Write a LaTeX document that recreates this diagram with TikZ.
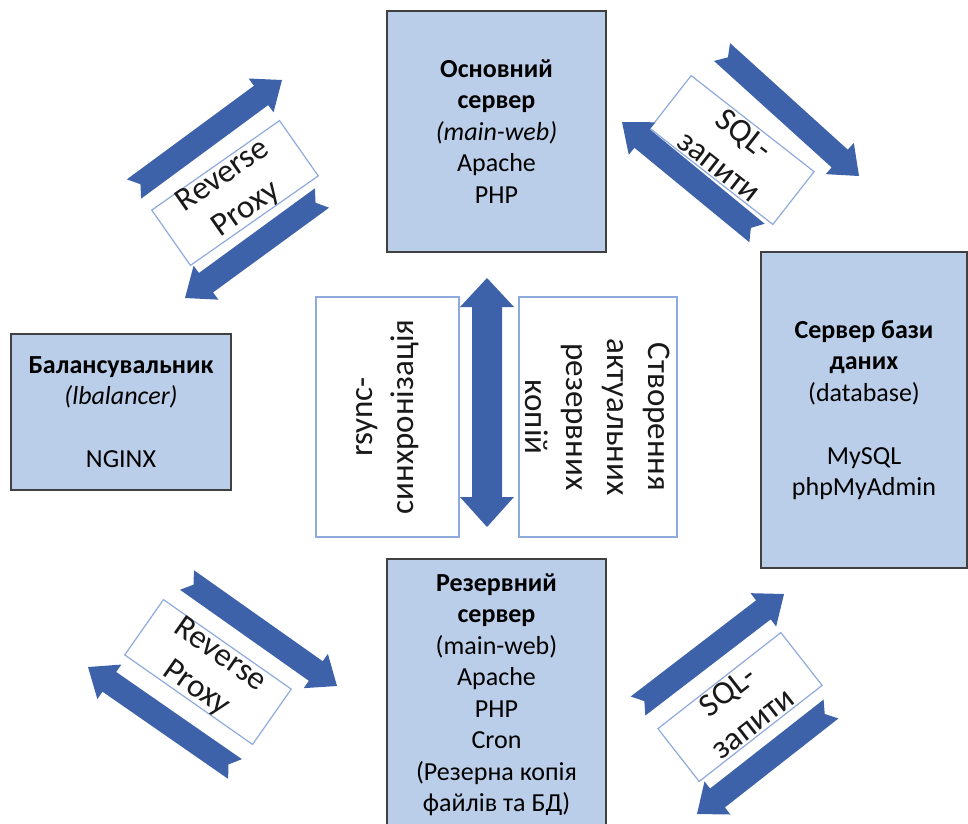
\documentclass[tikz,border=0pt]{standalone}
\usepackage{fontspec}
\setmainfont{Carlito}
\usetikzlibrary{calc}
\definecolor{boxfill}{RGB}{187,206,233}
\definecolor{boxline}{RGB}{64,64,64}
\definecolor{arrowblue}{RGB}{62,98,170}
\definecolor{lblline}{RGB}{143,170,220}
\tikzset{
  server/.style={draw=boxline, fill=boxfill, line width=1.2pt, align=center,
    font=\fontsize{26}{31.5}\selectfont, inner sep=0pt, text=black},
  lblbox/.style={draw=lblline, fill=white, line width=1.2pt, align=center,
    font=\fontsize{33}{41}\selectfont, inner sep=0pt, text=black!90},
  blkfill/.style={fill=arrowblue},
}
\newcommand{\blkarrow}[2]{%
  \coordinate (hb) at ($(#2)!26pt!(#1)$);
  \fill[blkfill] ($(#1)!12pt!90:(#2)$) -- ($(hb)!12pt!90:(#2)$) -- ($(hb)!21pt!90:(#2)$)
    -- (#2) -- ($(hb)!21pt!-90:(#2)$) -- ($(hb)!12pt!-90:(#2)$)
    -- ($(#1)!12pt!-90:(#2)$) -- ($(#1)!8pt!(#2)$) -- cycle;
}
\begin{document}
\begin{tikzpicture}[x=1pt,y=-1pt]
\useasboundingbox (0,0) rectangle (968,823);
\clip (0,0) rectangle (968,823);
\fill[white] (0,0) rectangle (968,823);

% server boxes
\node[server, minimum width=219pt, minimum height=241pt] (main) at (496.5,131.5)
  {\textbf{Основний}\\\textbf{сервер}\\\textit{(main-web)}\\Apache\\PHP};
\node[server, minimum width=206pt, minimum height=316pt] (db) at (864,410)
  {\textbf{Сервер бази}\\\textbf{даних}\\(database)\\[31.5pt]MySQL\\phpMyAdmin};
\node[server, minimum width=220pt, minimum height=156pt] (lb) at (121,412)
  {\textbf{Балансувальник}\\\textit{(lbalancer)}\\[31.5pt]NGINX};
\node[server, minimum width=219pt, minimum height=271pt] (backup) at (496.5,694.5)
  {\textbf{Резервний}\\\textbf{сервер}\\(main-web)\\Apache\\PHP\\Cron\\(Резерна копія\\файлів та БД)};

% central label boxes
\node[lblbox, minimum width=240pt, minimum height=143pt, rotate=90] (rsync) at (387.5,417)
  {rsync-\\синхронізація};
\node[lblbox, minimum width=240pt, minimum height=158pt, rotate=-90] (copies) at (598,417)
  {Створення\\актуальних\\резервних\\копій};

% vertical double arrow
\coordinate (dtop) at (487,278);
\coordinate (dbot) at (487,527);
\fill[blkfill] (dtop) -- ($(dtop)+(27,29)$) -- ($(dtop)+(15,29)$) -- ($(dbot)+(15,-30)$)
  -- ($(dbot)+(27,-30)$) -- (dbot) -- ($(dbot)+(-27,-30)$) -- ($(dbot)+(-15,-30)$)
  -- ($(dtop)+(-15,29)$) -- ($(dtop)+(-27,29)$) -- cycle;

% diagonal label boxes
\node[lblbox, minimum width=156pt, minimum height=67pt, rotate=35] (rp1) at (235,193)
  {Reverse\\Proxy};
\node[lblbox, minimum width=156pt, minimum height=67pt, rotate=-38] (sql1) at (732,150)
  {SQL-\\запити};
\node[lblbox, minimum width=156pt, minimum height=67pt, rotate=-35] (rp2) at (208,672)
  {Reverse\\Proxy};
\node[lblbox, minimum width=156pt, minimum height=67pt, rotate=38] (sql2) at (740,707)
  {SQL-\\запити};

% diagonal block arrows
\coordinate (a1t) at (134,189); \coordinate (a1h) at (282,80);
\coordinate (a2t) at (322,198); \coordinate (a2h) at (185,298);
\coordinate (b1t) at (722,52);  \coordinate (b1h) at (859,176);
\coordinate (b2t) at (757,233); \coordinate (b2h) at (622,122);
\coordinate (c1t) at (187,580); \coordinate (c1h) at (337,686);
\coordinate (c2t) at (235,769); \coordinate (c2h) at (88,667);
\coordinate (d1t) at (638,706); \coordinate (d1h) at (784,594);
\coordinate (d2t) at (831,709); \coordinate (d2h) at (697,814);
\blkarrow{a1t}{a1h}
\blkarrow{a2t}{a2h}
\blkarrow{b1t}{b1h}
\blkarrow{b2t}{b2h}
\blkarrow{c1t}{c1h}
\blkarrow{c2t}{c2h}
\blkarrow{d1t}{d1h}
\blkarrow{d2t}{d2h}
\end{tikzpicture}
\end{document}
